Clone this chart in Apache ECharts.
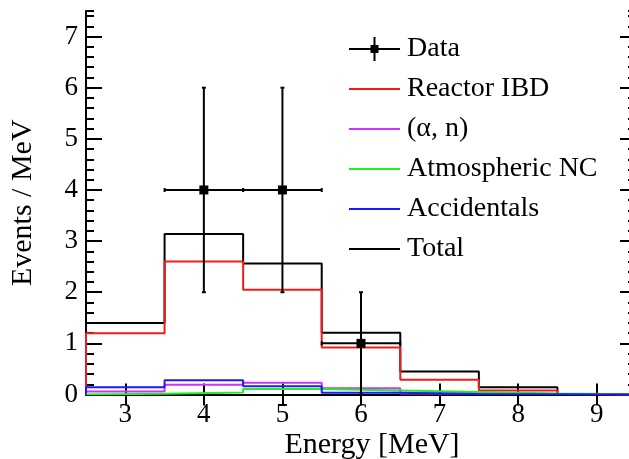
<!DOCTYPE html>
<html>
<head>
<meta charset="utf-8">
<script src="https://cdn.jsdelivr.net/npm/echarts@6/dist/echarts.min.js"></script>
<style>html,body{margin:0;padding:0;background:#fff;}#c{width:629px;height:459px;}</style>
</head>
<body>
<div id="c"></div>
<script>
// ---- data ----
const binEdges = [2.5, 3.5, 4.5, 5.5, 6.5, 7.5, 8.5, 9.5];
const totalVals = [1.40, 3.14, 2.56, 1.21, 0.45, 0.14, 0.01];
const reactorVals = [1.20, 2.60, 2.05, 0.92, 0.29, 0.08, 0.005];
const alphaNVals = [0.06, 0.19, 0.23, 0.12, 0.02, 0.01, 0.0];
const atmNCVals = [0.015, 0.04, 0.11, 0.08, 0.05, 0.02, 0.005];
const accidentalVals = [0.14, 0.28, 0.16, 0.035, 0.01, 0.005, 0.002];
const dataX = [4, 5, 6];
const dataY = [4, 4, 1];
const dataErrX = [0.5, 0.5, 0.5];
const dataErrY = [2, 2, 1];
const xTickValues = [3, 4, 5, 6, 7, 8, 9];
const yTickValues = [0, 1, 2, 3, 4, 5, 6, 7];

function stepPoints(edges, vals) {
  const pts = [[edges[0], 0]];
  for (let i = 0; i < vals.length; i++) {
    pts.push([edges[i], vals[i]]);
    pts.push([edges[i + 1], vals[i]]);
  }
  pts.push([edges[edges.length - 1], 0]);
  return pts;
}

const FONT = 'Liberation Serif';
const chart = echarts.init(document.getElementById('c'), null, {renderer: 'canvas'});

function histSeries(name, vals, color) {
  return {
    name: name, type: 'line', data: stepPoints(binEdges, vals),
    xAxisIndex: 0, yAxisIndex: 0,
    symbol: 'none', showSymbol: false, clip: true,
    lineStyle: {color: color, width: 2},
    itemStyle: {color: color},
    emphasis: {disabled: true}, silent: true, z: 3
  };
}

const errData = dataX.map((x, i) => [x, dataY[i], dataErrX[i], dataErrY[i]]);
const LINE_ICON = 'path://M0,0h51v2h-51z';

const option = {
  animation: false,
  backgroundColor: '#fff',
  grid: {left: 86, top: 11, right: -7, bottom: 64.5, containLabel: false, outerBoundsMode: 'none'},
  xAxis: [
    {type: 'value', min: 2.5, max: 9.5, position: 'bottom',
     name: 'Energy [MeV]', nameLocation: 'middle', nameGap: 36, nameMoveOverlap: false,
     nameTextStyle: {fontFamily: FONT, fontSize: 30, color: '#000', padding: [0, 0, 0, 22]},
     axisLine: {show: true, lineStyle: {color: '#000', width: 2}},
     axisTick: {show: true, inside: true, length: 11, customValues: xTickValues, lineStyle: {color: '#000', width: 2}},
     axisLabel: {customValues: xTickValues, margin: 7, fontFamily: FONT, fontSize: 27, color: '#000'},
     splitLine: {show: false}},
    {type: 'value', min: 2.5, max: 9.5, position: 'top',
     axisLine: {show: true, lineStyle: {color: '#000', width: 2}},
     axisTick: {show: true, inside: true, length: 11, customValues: xTickValues, lineStyle: {color: '#000', width: 2}},
     axisLabel: {show: false}, splitLine: {show: false}}
  ],
  yAxis: [
    {type: 'value', min: 0, max: 7.5, position: 'left',
     name: 'Events / MeV', nameLocation: 'middle', nameGap: 48, nameRotate: 90,
     nameTextStyle: {fontFamily: FONT, fontSize: 30, color: '#000'},
     axisLine: {show: true, lineStyle: {color: '#000', width: 2}},
     axisTick: {show: true, inside: true, length: 16, customValues: yTickValues, lineStyle: {color: '#000', width: 2}},
     axisLabel: {customValues: yTickValues, margin: 8, fontFamily: FONT, fontSize: 27, color: '#000'},
     splitLine: {show: false}},
    {type: 'value', min: 0, max: 7.5, interval: 0.2, position: 'left',
     axisLine: {show: false},
     axisTick: {show: true, inside: true, length: 8, lineStyle: {color: '#000', width: 2}},
     axisLabel: {show: false}, splitLine: {show: false}},
    {type: 'value', min: 0, max: 7.5, position: 'right',
     axisLine: {show: true, lineStyle: {color: '#000', width: 2}},
     axisTick: {show: true, inside: true, length: 16, customValues: yTickValues, lineStyle: {color: '#000', width: 2}},
     axisLabel: {show: false}, splitLine: {show: false}},
    {type: 'value', min: 0, max: 7.5, interval: 0.2, position: 'right',
     axisLine: {show: false},
     axisTick: {show: true, inside: true, length: 8, lineStyle: {color: '#000', width: 2}},
     axisLabel: {show: false}, splitLine: {show: false}}
  ],
  legend: {
    orient: 'vertical', left: 344, top: 30,
    itemWidth: 51, itemHeight: 24, itemGap: 12,
    symbolKeepAspect: true,
    textStyle: {fontFamily: FONT, fontSize: 28, color: '#000', padding: [0, 0, 0, 2]},
    selectedMode: false,
    data: [
      {name: 'Data', icon: 'path://M0,11h51v2h-51zM24.5,0h2v24h-2zM21.5,8h8v8h-8z', itemStyle: {color: '#000'}},
      {name: 'Reactor IBD', icon: LINE_ICON},
      {name: '(\u03b1, n)', icon: LINE_ICON},
      {name: 'Atmospheric NC', icon: LINE_ICON},
      {name: 'Accidentals', icon: LINE_ICON},
      {name: 'Total', icon: LINE_ICON}
    ]
  },
  series: [
    histSeries('Total', totalVals, '#000000'),
    histSeries('Reactor IBD', reactorVals, '#f01c1c'),
    histSeries('(\u03b1, n)', alphaNVals, '#cc33ff'),
    histSeries('Atmospheric NC', atmNCVals, '#22ee22'),
    histSeries('Accidentals', accidentalVals, '#1a1aff'),
    {
      name: 'Data', type: 'custom', xAxisIndex: 0, yAxisIndex: 0, z: 5, silent: true,
      itemStyle: {color: '#000'},
      data: errData,
      renderItem: function (params, api) {
        const x = api.value(0), y = api.value(1), ex = api.value(2), ey = api.value(3);
        const c = api.coord([x, y]);
        const l = api.coord([x - ex, y]), r = api.coord([x + ex, y]);
        const lo = api.coord([x, y - ey]), hi = api.coord([x, y + ey]);
        const st = {stroke: '#000', lineWidth: 2, fill: null};
        const cap = 2;
        return {type: 'group', children: [
          {type: 'line', shape: {x1: l[0], y1: c[1], x2: r[0], y2: c[1]}, style: st},
          {type: 'line', shape: {x1: c[0], y1: lo[1], x2: c[0], y2: hi[1]}, style: st},
          {type: 'line', shape: {x1: l[0], y1: c[1] - cap, x2: l[0], y2: c[1] + cap}, style: st},
          {type: 'line', shape: {x1: r[0], y1: c[1] - cap, x2: r[0], y2: c[1] + cap}, style: st},
          {type: 'line', shape: {x1: c[0] - cap, y1: lo[1], x2: c[0] + cap, y2: lo[1]}, style: st},
          {type: 'line', shape: {x1: c[0] - cap, y1: hi[1], x2: c[0] + cap, y2: hi[1]}, style: st},
          {type: 'rect', shape: {x: c[0] - 4.5, y: c[1] - 4.5, width: 9, height: 9}, style: {fill: '#000'}}
        ]};
      }
    }
  ]
};
chart.setOption(option);
</script>
</body>
</html>
